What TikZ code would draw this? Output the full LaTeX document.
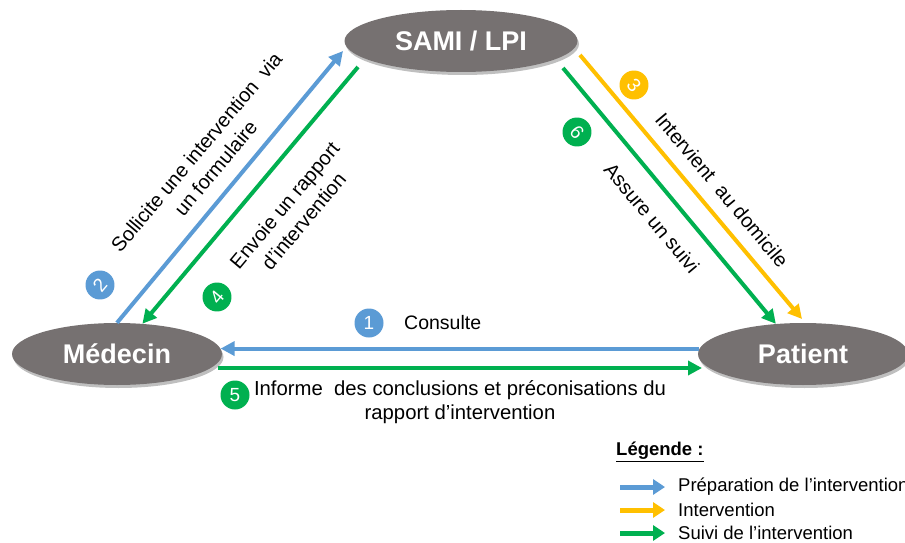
\documentclass[tikz,border=0pt]{standalone}
\usepackage{fontspec}
\setmainfont{Liberation Sans}
\usetikzlibrary{arrows.meta,shapes.geometric,shadows}

\definecolor{actorgray}{HTML}{767171}
\definecolor{prepblue}{HTML}{5B9BD5}
\definecolor{interyellow}{HTML}{FFC000}
\definecolor{suivigreen}{HTML}{00B050}

\begin{document}
\begin{tikzpicture}[x=1pt, y=-1pt,
  actor/.style={ellipse, fill=actorgray, text=white, inner sep=0pt,
    font=\fontsize{27}{30}\selectfont\bfseries,
    drop shadow={shadow xshift=1.5pt, shadow yshift=-3pt, opacity=0.25, fill=black}},
  flow/.style={line width=4pt, -{Triangle[length=14pt, width=14pt]}},
  legflow/.style={line width=5pt, -{Triangle[length=12pt, width=15pt]}},
  lab/.style={inner sep=0pt, font=\fontsize{19.5}{24}\selectfont},
  rlab/.style={inner sep=0pt, align=center, font=\fontsize{20}{25}\selectfont},
  leg/.style={inner sep=0pt, anchor=west, font=\fontsize{18.5}{22}\selectfont},
  num/.style={circle, minimum size=29pt, inner sep=0pt, text=white,
    font=\fontsize{19}{19}\selectfont}]

\useasboundingbox (0,0) rectangle (905,543);
\fill[white] (0,0) rectangle (905,543);

% actors
\node[actor, minimum width=233pt, minimum height=62pt] (sami) at (461,41) {SAMI / LPI};
\node[actor, minimum width=210pt, minimum height=62pt] (med) at (117,354) {Médecin};
\node[actor, minimum width=210pt, minimum height=62pt] (pat) at (803,354) {Patient};

% free ends of the flows
\coordinate (req) at (343,51);
\coordinate (rep) at (358,67);
\coordinate (visA) at (580,55);
\coordinate (visB) at (802,319);
\coordinate (fol) at (563,68);
\coordinate (infA) at (218,368);
\coordinate (infB) at (702,368);

% flows
\draw[flow, prepblue] (pat.177) -- (med.3);
\draw[flow, prepblue] (med.north) -- (req);
\draw[flow, interyellow] (visA) -- (visB);
\draw[flow, suivigreen] (rep) -- (med.50);
\draw[flow, suivigreen] (infA) -- (infB);
\draw[flow, suivigreen] (fol) -- (pat.132);

% step numbers
\node[num, fill=prepblue] (n1) at (369,323) {1};
\node[num, fill=prepblue, rotate=50] (n2) at (100,285) {2};
\node[num, fill=interyellow, rotate=-50] (n3) at (634,85) {3};
\node[num, fill=suivigreen, rotate=50] (n4) at (217,297) {4};
\node[num, fill=suivigreen] (n5) at (235,395) {5};
\node[num, fill=suivigreen, rotate=-50] (n6) at (577,132) {6};

% flow labels
\node[lab, anchor=west] (t1) at (404,323) {Consulte};
\node[rlab, rotate=50] (t2) at (206,160) {Sollicite une intervention\ \ via\\un formulaire};
\node[rlab, rotate=-50] (t3) at (722,190) {Intervient\ \ au domicile};
\node[rlab, rotate=50] (t4) at (294,213) {Envoie un rapport\\d’intervention};
\node[lab, align=center, font=\fontsize{20.3}{24}\selectfont] (t5) at (460,402) {Informe\ \ des conclusions et préconisations du\\rapport d’intervention};
\node[rlab, rotate=-50] (t6) at (652,218) {Assure un suivi};

% legend
\node[leg, font=\fontsize{18.5}{22}\selectfont\bfseries] (legtitle) at (616,452) {\underline{Légende :}};
\node[leg] (leg1) at (678,487) {Préparation de l’intervention};
\node[leg] (leg2) at (678,510) {Intervention};
\node[leg] (leg3) at (678,533) {Suivi de l’intervention};
\draw[legflow, prepblue] ([xshift=-58pt]leg1.west) -- ([xshift=-13pt]leg1.west);
\draw[legflow, interyellow] ([xshift=-58pt]leg2.west) -- ([xshift=-13pt]leg2.west);
\draw[legflow, suivigreen] ([xshift=-58pt]leg3.west) -- ([xshift=-13pt]leg3.west);

\end{tikzpicture}
\end{document}
